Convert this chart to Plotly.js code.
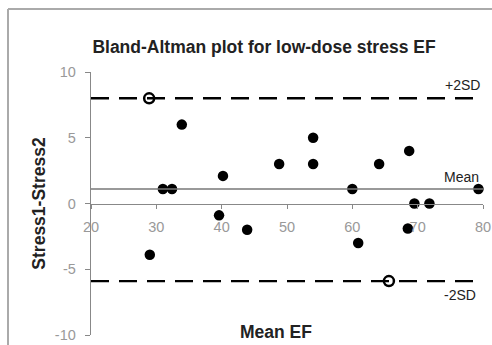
<!DOCTYPE html>
<html>
<head>
<meta charset="utf-8">
<script src="https://cdn.plot.ly/plotly-3.0.1.min.js"></script>
<style>html,body{margin:0;padding:0;background:#fff;}</style>
</head>
<body>
<div id="chart" style="width:492px;height:345px;"></div>
<script>
// Data
const meanEF   = [28.9, 33.9, 31.0, 32.4, 40.2, 39.6, 29.0, 43.9, 48.8, 54.0, 54.0, 64.1, 68.7, 60.0, 79.3, 69.5, 71.8, 68.5, 60.9, 65.6];
const diffEF   = [8.0, 6.0, 1.1, 1.1, 2.1, -0.9, -3.9, -2.0, 3.0, 5.0, 3.0, 3.0, 4.0, 1.1, 1.1, 0.0, 0.0, -1.9, -3.0, -5.9];
const openIdx  = [0, 19];          // points drawn as open circles
const meanDiff = 1.1;
const upperSD  = 8.0;
const lowerSD  = -5.9;
const xTicks   = [20, 30, 40, 50, 60, 70, 80];
const yTicks   = [-10, -5, 0, 5, 10];
const lineLabels = ["+2SD", "Mean", "-2SD"];

const W = 492, H = 345;
const M = {l: 91, r: 9, t: 72, b: 10};
const pw = W - M.l - M.r, ph = H - M.t - M.b;
const px = v => (v - M.l) / pw;          // pixel -> paper x
const py = v => (H - M.b - v) / ph;      // pixel -> paper y

const fillX = [], fillY = [], openX = [], openY = [];
meanEF.forEach((x, i) => {
  if (openIdx.includes(i)) { openX.push(x); openY.push(diffEF[i]); }
  else { fillX.push(x); fillY.push(diffEF[i]); }
});

const font = "Liberation Sans, Arial, sans-serif";
const traces = [
  {x: fillX, y: fillY, type: "scatter", mode: "markers",
   marker: {color: "#000", size: 10.5, line: {width: 0}}, cliponaxis: false, hoverinfo: "skip"},
  {x: openX, y: openY, type: "scatter", mode: "markers",
   marker: {color: "#000", size: 10, symbol: "circle-open", line: {width: 2.5, color: "#000"}}, cliponaxis: false, hoverinfo: "skip"}
];

const dashStyle = {color: "#000", width: 2.4, dash: "18px,10px"};
const layout = {
  width: W, height: H,
  margin: M,
  paper_bgcolor: "#fff", plot_bgcolor: "#fff",
  showlegend: false,
  font: {family: font, color: "#222"},
  title: {text: "<b>Bland-Altman plot for low-dose stress EF</b>",
          font: {family: font, size: 17.5, color: "#222"},
          xref: "container", yref: "container", x: 264 / W, xanchor: "center",
          y: 1 - 47 / H, yanchor: "middle"},
  xaxis: {range: [20, 80], tickvals: xTicks, ticktext: xTicks.map(String),
          anchor: "free", position: 0.5, showline: true, linecolor: "#888", linewidth: 1.3,
          ticks: "outside", ticklen: 4, tickcolor: "#888", showgrid: false, zeroline: false,
          tickfont: {family: font, size: 14.5, color: "#999"}, ticklabelstandoff: 6},
  yaxis: {range: [-10, 10], tickvals: yTicks, ticktext: yTicks.map(String),
          showline: true, linecolor: "#888", linewidth: 1.3,
          ticks: "outside", ticklen: 5, tickcolor: "#888", showgrid: false, zeroline: false,
          tickfont: {family: font, size: 14.5, color: "#999"}, ticklabelstandoff: 6,
          title: {text: "<b>Stress1-Stress2</b>", font: {family: font, size: 17.5, color: "#222"}, standoff: 4}},
  shapes: [
    {type: "line", xref: "paper", yref: "y", x0: 0, x1: px(480), y0: upperSD, y1: upperSD, line: dashStyle},
    {type: "line", xref: "paper", yref: "y", x0: 0, x1: 1, y0: lowerSD, y1: lowerSD, line: dashStyle},
    {type: "line", xref: "paper", yref: "y", x0: 0, x1: 1, y0: meanDiff, y1: meanDiff, line: {color: "#777", width: 1.4}},
    // chart-area border (left and top)
    {type: "line", xref: "paper", yref: "paper", x0: px(8), x1: px(8), y0: py(9), y1: py(H + 5), line: {color: "#aaa", width: 2}},
    {type: "line", xref: "paper", yref: "paper", x0: px(8), x1: px(W + 5), y0: py(9), y1: py(9), line: {color: "#aaa", width: 2}}
  ],
  annotations: [
    {text: lineLabels[0], xref: "paper", yref: "y", x: px(482), y: upperSD, xanchor: "right", yanchor: "bottom", yshift: 3,
     showarrow: false, font: {family: font, size: 14, color: "#222"}},
    {text: lineLabels[1], xref: "paper", yref: "y", x: px(481), y: meanDiff, xanchor: "right", yanchor: "bottom", yshift: 2,
     showarrow: false, font: {family: font, size: 14, color: "#222"}},
    {text: lineLabels[2], xref: "paper", yref: "y", x: px(478), y: lowerSD, xanchor: "right", yanchor: "top", yshift: -4,
     showarrow: false, font: {family: font, size: 14, color: "#222"}},
    {text: "<b>Mean EF</b>", xref: "paper", yref: "paper", x: px(276), y: py(332), xanchor: "center", yanchor: "middle",
     showarrow: false, font: {family: font, size: 17.5, color: "#222"}}
  ]
};

Plotly.newPlot("chart", traces, layout, {staticPlot: true, displayModeBar: false});
</script>
</body>
</html>
